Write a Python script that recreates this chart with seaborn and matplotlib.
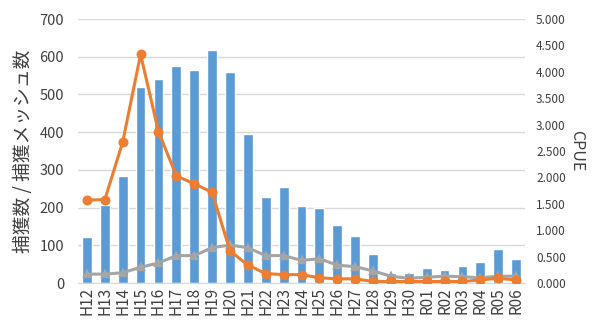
import matplotlib
matplotlib.use("Agg")
import matplotlib.pyplot as plt
import seaborn as sns
import pandas as pd

years = ["H12", "H13", "H14", "H15", "H16", "H17", "H18", "H19", "H20", "H21",
         "H22", "H23", "H24", "H25", "H26", "H27", "H28", "H29", "H30",
         "R01", "R02", "R03", "R04", "R05", "R06"]
catch_counts = [122, 206, 284, 519, 542, 575, 566, 618, 560, 396,
                229, 256, 204, 198, 154, 125, 78, 27, 27,
                40, 34, 46, 57, 89, 65]
cpue_orange = [1.57, 1.58, 2.67, 4.33, 2.87, 2.03, 1.88, 1.72, 0.61, 0.34,
               0.18, 0.16, 0.16, 0.10, 0.08, 0.08, 0.03, 0.03, 0.03,
               0.03, 0.03, 0.03, 0.06, 0.09, 0.06]
cpue_gray = [0.17, 0.17, 0.195, 0.30, 0.38, 0.52, 0.52, 0.67, 0.72, 0.67,
             0.52, 0.52, 0.43, 0.46, 0.34, 0.31, 0.23, 0.13, 0.09,
             0.11, 0.13, 0.12, 0.10, 0.13, 0.13]
left_ticks = [0, 100, 200, 300, 400, 500, 600, 700]
right_ticks = [0, 0.5, 1.0, 1.5, 2.0, 2.5, 3.0, 3.5, 4.0, 4.5, 5.0]

df = pd.DataFrame({"year": years, "count": catch_counts,
                   "cpue1": cpue_orange, "cpue2": cpue_gray})

sns.set_style("white")
plt.rcParams["font.family"] = ["Noto Sans CJK JP", "DejaVu Sans"]

fig = plt.figure(figsize=(6.0, 3.28), dpi=100)
ax = fig.add_axes([0.13, 0.137, 0.745, 0.805])

sns.barplot(data=df, x="year", y="count", color="#5B9BD5", saturation=1,
            width=0.55, ax=ax, zorder=2)
ax.set_ylim(0, 700)
ax.set_yticks(left_ticks)
ax.yaxis.grid(True, color="#D9D9D9", linewidth=1, zorder=0)
ax.set_axisbelow(True)
ax.set_xlabel("")
ax.set_ylabel("捕獲数 / 捕獲メッシュ数", fontsize=13.5, color="#404040", labelpad=4)
ax.tick_params(axis="y", labelsize=10.5, colors="#404040", length=0, pad=10)
ax.tick_params(axis="x", labelsize=11, colors="#404040", length=0, rotation=90, pad=3)
for s in ax.spines.values():
    s.set_visible(False)
ax.spines["bottom"].set_visible(True)
ax.spines["bottom"].set_color("#D9D9D9")

ax2 = ax.twinx()
sns.pointplot(data=df, x="year", y="cpue2", color="#A5A5A5", markers="^",
              linewidth=2.2, markersize=4.5, ax=ax2, errorbar=None)
sns.pointplot(data=df, x="year", y="cpue1", color="#ED7D31", markers="o",
              linewidth=2.2, markersize=5.5, ax=ax2, errorbar=None)
ax2.set_ylim(0, 5.0)
ax2.set_yticks(right_ticks)
ax2.set_yticklabels([f"{v:.3f}" for v in right_ticks])
ax2.set_ylabel("CPUE", fontsize=11.5, color="#404040", rotation=270, labelpad=14)
ax2.tick_params(axis="y", labelsize=8.5, colors="#404040", length=0, pad=8)
ax2.set_xlim(-0.5, len(years) - 0.5)
ax.set_xlim(-0.5, len(years) - 0.5)
for s in ax2.spines.values():
    s.set_visible(False)

fig.savefig("out.png", dpi=100, facecolor="white")
